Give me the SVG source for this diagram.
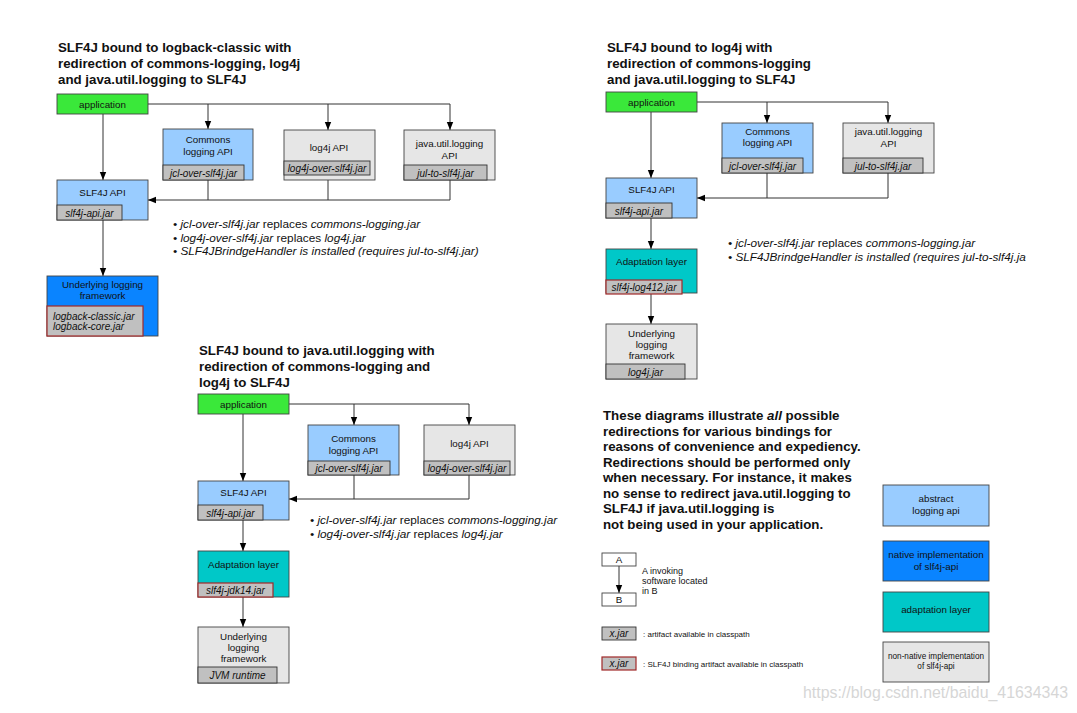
<svg xmlns="http://www.w3.org/2000/svg" width="1077" height="713" viewBox="0 0 1077 713">
<style>
text{font-family:"Liberation Sans",Arial,sans-serif;fill:#111}
.title{font-size:13.3px;font-weight:bold}
.t{font-size:9.8px;text-anchor:middle}
.j{font-size:10px;font-style:italic;text-anchor:middle}
.b{font-size:11.8px;font-style:italic}
.b .n{font-style:normal}
.box{stroke:#444;stroke-width:0.9}
.jar{fill:#c0c0c0;stroke:#333;stroke-width:0.9}
.rjar{fill:#c0c0c0;stroke:#a02828;stroke-width:1.2}
.app{fill:#3ae83a}
.lb{fill:#99ccff}
.gr{fill:#e6e6e6}
.bl{fill:#0a84ff}
.tl{fill:#00c8c8}
.wh{fill:#fff}
.c{fill:none;stroke:#333;stroke-width:1}
.sm{font-size:9px}
.xs{font-size:8px}
</style>
<defs>
<marker id="ah" markerUnits="userSpaceOnUse" markerWidth="8" markerHeight="11" refX="10" refY="4" viewBox="0 0 10 8" orient="auto"><path d="M0,0 L10,4 L0,8 z" fill="#000"/></marker>
</defs>
<rect width="1077" height="713" fill="#fff"/>

<!-- Titles -->
<text class="title" x="58" y="52">SLF4J bound to logback-classic with</text>
<text class="title" x="58" y="68">redirection of commons-logging, log4j</text>
<text class="title" x="58" y="84">and java.util.logging to SLF4J</text>
<text class="title" x="607" y="52">SLF4J bound to log4j with</text>
<text class="title" x="607" y="68">redirection of commons-logging</text>
<text class="title" x="607" y="84">and java.util.logging to SLF4J</text>
<text class="title" x="199" y="355">SLF4J bound to java.util.logging with</text>
<text class="title" x="199" y="371">redirection of commons-logging and</text>
<text class="title" x="199" y="387">log4j to SLF4J</text>

<!-- Connectors -->
<g id="connectors">
<path class="c" d="M148,104 H450 V130" marker-end="url(#ah)"/>
<path class="c" d="M208,104 V129" marker-end="url(#ah)"/>
<path class="c" d="M328,104 V130" marker-end="url(#ah)"/>
<path class="c" d="M103,114 V180" marker-end="url(#ah)"/>
<path class="c" d="M208,180 V200"/>
<path class="c" d="M328,180 V200"/>
<path class="c" d="M450,180 V200 H148" marker-end="url(#ah)"/>
<path class="c" d="M103,220 V276" marker-end="url(#ah)"/>

<path class="c" d="M697,102 H888 V123" marker-end="url(#ah)"/>
<path class="c" d="M767,102 V123" marker-end="url(#ah)"/>
<path class="c" d="M651,112 V178" marker-end="url(#ah)"/>
<path class="c" d="M767,173 V198"/>
<path class="c" d="M888,173 V198 H697" marker-end="url(#ah)"/>
<path class="c" d="M651,218 V249" marker-end="url(#ah)"/>
<path class="c" d="M651,293 V324" marker-end="url(#ah)"/>

<path class="c" d="M289,404 H469 V425" marker-end="url(#ah)"/>
<path class="c" d="M354,404 V425" marker-end="url(#ah)"/>
<path class="c" d="M243,414 V481" marker-end="url(#ah)"/>
<path class="c" d="M354,475 V499"/>
<path class="c" d="M469,475 V499 H289" marker-end="url(#ah)"/>
<path class="c" d="M243,520 V551" marker-end="url(#ah)"/>
<path class="c" d="M243,597 V627" marker-end="url(#ah)"/>

<path class="c" d="M619,566 V593" marker-end="url(#ah)"/>
</g>

<!-- Top-left diagram -->
<g id="tl-app"><rect class="box app" x="57" y="94" width="91" height="20"/><text class="t" x="102.5" y="107.5">application</text></g>
<g id="tl-commons"><rect class="box lb" x="163" y="129" width="90" height="51"/><text class="t" x="208" y="143">Commons</text><text class="t" x="208" y="155">logging API</text><rect class="jar" x="163" y="165" width="81" height="15"/><text class="j" x="203.5" y="176.5">jcl-over-slf4j.jar</text></g>
<g id="tl-log4j"><rect class="box gr" x="284" y="130" width="91" height="50"/><text class="t" x="329" y="151">log4j API</text><rect class="jar" x="284" y="161" width="86" height="14"/><text class="j" x="327" y="171.5">log4j-over-slf4j.jar</text></g>
<g id="tl-jul"><rect class="box gr" x="404" y="130" width="91" height="50"/><text class="t" x="449.5" y="147">java.util.logging</text><text class="t" x="449.5" y="159">API</text><rect class="jar" x="404" y="165" width="83" height="15"/><text class="j" x="445.5" y="176.5">jul-to-slf4j.jar</text></g>
<g id="tl-slf4j"><rect class="box lb" x="57" y="180" width="91" height="40"/><text class="t" x="102.5" y="196">SLF4J API</text><rect class="jar" x="57" y="205" width="65" height="15"/><text class="j" x="89.5" y="216.5">slf4j-api.jar</text></g>
<g id="tl-under"><rect class="box bl" x="47" y="276" width="111" height="60"/><text class="t" x="102.5" y="288">Underlying logging</text><text class="t" x="102.5" y="299">framework</text><rect class="rjar" x="47" y="306" width="96" height="30"/><text class="j" x="53" y="319.5" style="text-anchor:start">logback-classic.jar</text><text class="j" x="53" y="330" style="text-anchor:start">logback-core.jar</text></g>
<g id="tl-notes">
<text class="b" x="173" y="228">• jcl-over-slf4j.jar <tspan class="n">replaces</tspan> commons-logging.jar</text>
<text class="b" x="173" y="242">• log4j-over-slf4j.jar <tspan class="n">replaces</tspan> log4j.jar</text>
<text class="b" x="173" y="255">• SLF4JBrindgeHandler is installed (requires jul-to-slf4j.jar)</text>
</g>

<!-- Top-right diagram -->
<g id="tr-app"><rect class="box app" x="606" y="92" width="91" height="20"/><text class="t" x="651.5" y="105.5">application</text></g>
<g id="tr-commons"><rect class="box lb" x="722" y="123" width="91" height="50"/><text class="t" x="767.5" y="135">Commons</text><text class="t" x="767.5" y="146">logging API</text><rect class="jar" x="722" y="158" width="81" height="15"/><text class="j" x="762.5" y="169.5">jcl-over-slf4j.jar</text></g>
<g id="tr-jul"><rect class="box gr" x="843" y="123" width="91" height="50"/><text class="t" x="888.5" y="135">java.util.logging</text><text class="t" x="888.5" y="147">API</text><rect class="jar" x="843" y="158" width="80" height="15"/><text class="j" x="883" y="169.5">jul-to-slf4j.jar</text></g>
<g id="tr-slf4j"><rect class="box lb" x="606" y="178" width="91" height="40"/><text class="t" x="651.5" y="193">SLF4J API</text><rect class="jar" x="606" y="203" width="66" height="15"/><text class="j" x="639" y="214.5">slf4j-api.jar</text></g>
<g id="tr-adapt"><rect class="box tl" x="606" y="249" width="91" height="44"/><text class="t" x="651.5" y="265">Adaptation layer</text><rect class="rjar" x="606" y="280" width="76" height="14"/><text class="j" x="644" y="290.5">slf4j-log412.jar</text></g>
<g id="tr-under"><rect class="box gr" x="606" y="324" width="91" height="55"/><text class="t" x="651.5" y="337">Underlying</text><text class="t" x="651.5" y="348">logging</text><text class="t" x="651.5" y="359">framework</text><rect class="jar" x="606" y="364" width="79" height="15"/><text class="j" x="645.5" y="375.5">log4j.jar</text></g>
<g id="tr-notes">
<text class="b" x="728" y="247">• jcl-over-slf4j.jar <tspan class="n">replaces</tspan> commons-logging.jar</text>
<text class="b" x="728" y="261">• SLF4JBrindgeHandler is installed (requires jul-to-slf4j.ja</text>
</g>

<!-- Bottom-left diagram -->
<g id="bl-app"><rect class="box app" x="198" y="394" width="91" height="20"/><text class="t" x="243.5" y="407.5">application</text></g>
<g id="bl-commons"><rect class="box lb" x="308" y="425" width="91" height="50"/><text class="t" x="353.5" y="442">Commons</text><text class="t" x="353.5" y="454">logging API</text><rect class="jar" x="308" y="461" width="82" height="14"/><text class="j" x="349" y="472">jcl-over-slf4j.jar</text></g>
<g id="bl-log4j"><rect class="box gr" x="424" y="425" width="91" height="50"/><text class="t" x="469.5" y="447">log4j API</text><rect class="jar" x="424" y="461" width="86" height="14"/><text class="j" x="467" y="472">log4j-over-slf4j.jar</text></g>
<g id="bl-slf4j"><rect class="box lb" x="198" y="481" width="91" height="39"/><text class="t" x="243.5" y="496">SLF4J API</text><rect class="jar" x="198" y="505" width="65" height="15"/><text class="j" x="230.5" y="516.5">slf4j-api.jar</text></g>
<g id="bl-adapt"><rect class="box tl" x="198" y="551" width="91" height="46"/><text class="t" x="243.5" y="568">Adaptation layer</text><rect class="rjar" x="198" y="583" width="75" height="14"/><text class="j" x="235.5" y="593.5">slf4j-jdk14.jar</text></g>
<g id="bl-under"><rect class="box gr" x="198" y="627" width="91" height="56"/><text class="t" x="243.5" y="640">Underlying</text><text class="t" x="243.5" y="651">logging</text><text class="t" x="243.5" y="662">framework</text><rect class="jar" x="198" y="667" width="79" height="16"/><text class="j" x="237.5" y="678.5">JVM runtime</text></g>
<g id="bl-notes">
<text class="b" x="310" y="524">• jcl-over-slf4j.jar <tspan class="n">replaces</tspan> commons-logging.jar</text>
<text class="b" x="310" y="538">• log4j-over-slf4j.jar <tspan class="n">replaces</tspan> log4j.jar</text>
</g>

<!-- Explanation -->
<g id="explanation">
<text class="title" x="603" y="420">These diagrams illustrate <tspan font-style="italic">all</tspan> possible</text>
<text class="title" x="603" y="435.5">redirections for various bindings for</text>
<text class="title" x="603" y="451">reasons of convenience and expediency.</text>
<text class="title" x="603" y="466.5">Redirections should be performed only</text>
<text class="title" x="603" y="482">when necessary. For instance, it makes</text>
<text class="title" x="603" y="497.5">no sense to redirect java.util.logging to</text>
<text class="title" x="603" y="513">SLF4J if java.util.logging is</text>
<text class="title" x="603" y="528.5">not being used in your application.</text>
</g>

<!-- Legend -->
<g id="legend-a"><rect class="box wh" x="602" y="553" width="34" height="13"/><text class="t" x="619" y="563">A</text></g>
<g id="legend-b"><rect class="box wh" x="602" y="593" width="34" height="13"/><text class="t" x="619" y="603">B</text></g>
<g id="legend-ab-text"><text class="sm" x="642" y="574">A invoking</text><text class="sm" x="642" y="584">software located</text><text class="sm" x="642" y="594">in B</text></g>
<g id="legend-jar"><rect class="jar" x="602" y="627" width="34" height="13"/><text class="j" x="619" y="637">x.jar</text><text class="xs" x="643" y="637">: artifact available in classpath</text></g>
<g id="legend-rjar"><rect class="rjar" x="602" y="657" width="34" height="13"/><text class="j" x="619" y="667">x.jar</text><text class="xs" x="643" y="667">: SLF4J binding artifact available in classpath</text></g>
<g id="legend-abstract"><rect class="box lb" x="883" y="485" width="106" height="41"/><text class="t" x="936" y="502">abstract</text><text class="t" x="936" y="514">logging api</text></g>
<g id="legend-native"><rect class="box bl" x="883" y="541" width="106" height="40"/><text class="t" x="936" y="558">native implementation</text><text class="t" x="936" y="570">of slf4j-api</text></g>
<g id="legend-adapt"><rect class="box tl" x="883" y="592" width="106" height="40"/><text class="t" x="936" y="613">adaptation layer</text></g>
<g id="legend-nonnative"><rect class="box gr" x="883" y="642" width="106" height="40"/><text class="t" x="936" y="659" style="font-size:8.2px">non-native implementation</text><text class="t" x="936" y="669" style="font-size:8.2px">of slf4j-api</text></g>

<text x="803" y="698" style="font-size:15.9px;fill:#d6d6d6">https://blog.csdn.net/baidu_41634343</text>
</svg>
